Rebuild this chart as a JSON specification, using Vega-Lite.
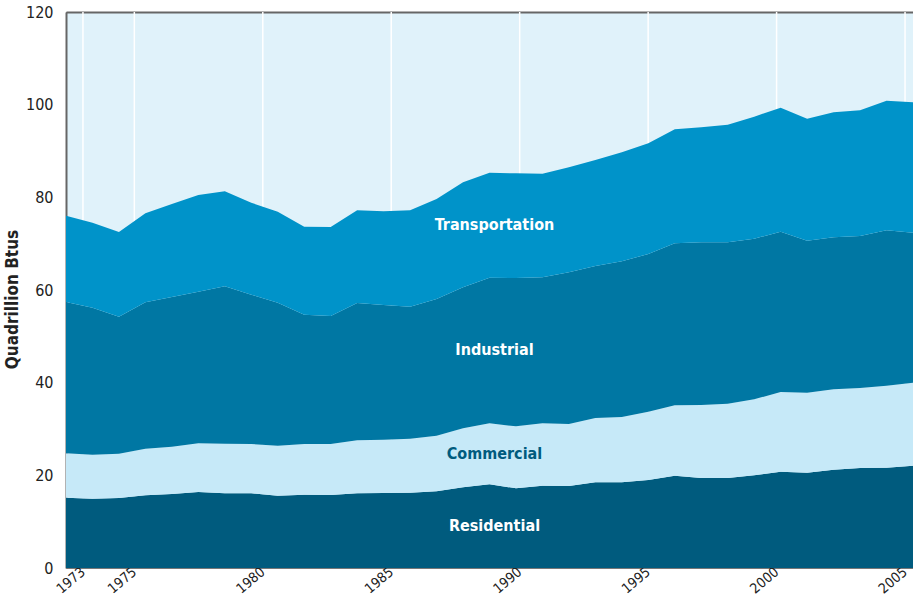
{
  "$schema": "https://vega.github.io/schema/vega-lite/v6.json",
  "width": 847,
  "height": 556,
  "autosize": {"type": "none"},
  "padding": {"left": 66, "top": 12, "right": 0, "bottom": 34},
  "background": "white",
  "config": {
    "view": {"fill": "#E0F2FA", "stroke": "#777777", "strokeWidth": 1},
    "font": "Liberation Sans Narrow, DejaVu Sans Condensed, Roboto, sans-serif",
    "axis": {"labelFont": "Liberation Sans Narrow, DejaVu Sans Condensed, Roboto, sans-serif", "titleFont": "Liberation Sans Narrow, DejaVu Sans Condensed, Roboto, sans-serif"}
  },
  "datasets": {
    "energy": [
      {"year": 1973, "Residential": 15.17, "Commercial": 9.58, "Industrial": 32.66, "Transportation": 18.63},
      {"year": 1974, "Residential": 14.96, "Commercial": 9.50, "Industrial": 31.72, "Transportation": 18.35},
      {"year": 1975, "Residential": 15.11, "Commercial": 9.57, "Industrial": 29.56, "Transportation": 18.28},
      {"year": 1976, "Residential": 15.69, "Commercial": 10.06, "Industrial": 31.59, "Transportation": 19.21},
      {"year": 1977, "Residential": 15.97, "Commercial": 10.21, "Industrial": 32.31, "Transportation": 20.07},
      {"year": 1978, "Residential": 16.40, "Commercial": 10.51, "Industrial": 32.72, "Transportation": 20.87},
      {"year": 1979, "Residential": 16.12, "Commercial": 10.71, "Industrial": 33.97, "Transportation": 20.50},
      {"year": 1980, "Residential": 16.12, "Commercial": 10.64, "Industrial": 32.23, "Transportation": 19.85},
      {"year": 1981, "Residential": 15.60, "Commercial": 10.80, "Industrial": 30.86, "Transportation": 19.64},
      {"year": 1982, "Residential": 15.82, "Commercial": 10.94, "Industrial": 27.91, "Transportation": 18.99},
      {"year": 1983, "Residential": 15.76, "Commercial": 11.00, "Industrial": 27.63, "Transportation": 19.21},
      {"year": 1984, "Residential": 16.12, "Commercial": 11.44, "Industrial": 29.64, "Transportation": 20.00},
      {"year": 1985, "Residential": 16.19, "Commercial": 11.50, "Industrial": 29.07, "Transportation": 20.24},
      {"year": 1986, "Residential": 16.25, "Commercial": 11.66, "Industrial": 28.49, "Transportation": 20.80},
      {"year": 1987, "Residential": 16.55, "Commercial": 12.01, "Industrial": 29.50, "Transportation": 21.58},
      {"year": 1988, "Residential": 17.42, "Commercial": 12.73, "Industrial": 30.43, "Transportation": 22.66},
      {"year": 1989, "Residential": 18.06, "Commercial": 13.17, "Industrial": 31.43, "Transportation": 22.65},
      {"year": 1990, "Residential": 17.20, "Commercial": 13.38, "Industrial": 32.01, "Transportation": 22.59},
      {"year": 1991, "Residential": 17.76, "Commercial": 13.47, "Industrial": 31.51, "Transportation": 22.36},
      {"year": 1992, "Residential": 17.70, "Commercial": 13.38, "Industrial": 32.74, "Transportation": 22.65},
      {"year": 1993, "Residential": 18.50, "Commercial": 13.87, "Industrial": 32.81, "Transportation": 22.88},
      {"year": 1994, "Residential": 18.50, "Commercial": 14.09, "Industrial": 33.60, "Transportation": 23.52},
      {"year": 1995, "Residential": 18.99, "Commercial": 14.75, "Industrial": 34.03, "Transportation": 23.88},
      {"year": 1996, "Residential": 19.92, "Commercial": 15.19, "Industrial": 34.97, "Transportation": 24.59},
      {"year": 1997, "Residential": 19.42, "Commercial": 15.76, "Industrial": 35.11, "Transportation": 24.81},
      {"year": 1998, "Residential": 19.42, "Commercial": 16.04, "Industrial": 34.83, "Transportation": 25.39},
      {"year": 1999, "Residential": 20.00, "Commercial": 16.41, "Industrial": 34.66, "Transportation": 26.33},
      {"year": 2000, "Residential": 20.78, "Commercial": 17.21, "Industrial": 34.59, "Transportation": 26.77},
      {"year": 2001, "Residential": 20.57, "Commercial": 17.27, "Industrial": 32.80, "Transportation": 26.33},
      {"year": 2002, "Residential": 21.22, "Commercial": 17.35, "Industrial": 32.80, "Transportation": 26.98},
      {"year": 2003, "Residential": 21.58, "Commercial": 17.27, "Industrial": 32.80, "Transportation": 27.13},
      {"year": 2004, "Residential": 21.65, "Commercial": 17.70, "Industrial": 33.53, "Transportation": 27.98},
      {"year": 2005, "Residential": 22.08, "Commercial": 17.91, "Industrial": 32.38, "Transportation": 28.13}
    ]
  },
  "resolve": {"scale": {"x": "independent"}, "axis": {"x": "independent"}},
  "layer": [
    {
      "data": {"name": "energy"},
      "transform": [
        {"filter": "indexof([1973,1975,1980,1985,1990,1995,2000,2005], datum.year) >= 0"}
      ],
      "mark": {"type": "rule", "color": "#FFFFFF", "strokeWidth": 1.5},
      "encoding": {
        "x": {
          "field": "year", "type": "quantitative",
          "scale": {"domain": [1972.34, 2005.31], "nice": false, "zero": false},
          "axis": {
            "values": [1973, 1975, 1980, 1985, 1990, 1995, 2000, 2005],
            "format": "d", "title": null, "grid": false,
            "tickSize": 0, "domain": false,
            "labelAngle": -40, "labelAlign": "right", "labelBaseline": "middle",
            "labelPadding": 2, "labelFontSize": 14, "labelColor": "#222222",
            "labelFlush": false, "labelOverlap": false
          }
        }
      }
    },
    {
      "data": {"name": "energy"},
      "transform": [
        {"fold": ["Residential", "Commercial", "Industrial", "Transportation"], "as": ["sector", "value"]},
        {"calculate": "indexof(['Residential','Commercial','Industrial','Transportation'], datum.sector)", "as": "ord"}
      ],
      "layer": [
        {
          "mark": {"type": "area", "interpolate": "linear"},
          "encoding": {
            "x": {
              "field": "year", "type": "quantitative",
              "scale": {"domain": [1973, 2005], "nice": false, "zero": false},
              "axis": {
                "title": null, "labels": false, "ticks": false, "grid": false,
                "domain": true, "domainColor": "#666666", "domainWidth": 2
              }
            },
            "y": {
              "field": "value", "type": "quantitative", "stack": "zero",
              "scale": {"domain": [0, 120], "nice": false},
              "axis": {
                "values": [0, 20, 40, 60, 80, 100, 120],
                "title": "Quadrillion Btus", "titleFontSize": 17, "titleFontWeight": "bold",
                "titleColor": "#222222", "titleY": 287,
                "grid": false, "tickSize": 0, "labelPadding": 13,
                "labelFontSize": 16, "labelColor": "#222222",
                "domainColor": "#666666", "domainWidth": 2
              }
            },
            "color": {
              "field": "sector", "type": "nominal",
              "scale": {
                "domain": ["Residential", "Commercial", "Industrial", "Transportation"],
                "range": ["#005B7E", "#C6E9F8", "#0077A3", "#0093C9"]
              },
              "legend": null
            },
            "order": {"field": "ord", "type": "quantitative"}
          }
        },
        {
          "transform": [
            {"stack": "value", "groupby": ["year"], "sort": [{"field": "ord"}], "as": ["v0", "v1"]},
            {"filter": "datum.year == 1989"},
            {"calculate": "(datum.v0 + datum.v1) / 2", "as": "mid"}
          ],
          "mark": {"type": "text", "fontSize": 16, "fontWeight": "bold", "dx": 5},
          "encoding": {
            "x": {"field": "year", "type": "quantitative"},
            "y": {"field": "mid", "type": "quantitative"},
            "text": {"field": "sector", "type": "nominal"},
            "color": {
              "condition": {"test": "datum.sector == 'Commercial'", "value": "#005B7E"},
              "value": "#FFFFFF"
            }
          }
        }
      ]
    }
  ]
}
